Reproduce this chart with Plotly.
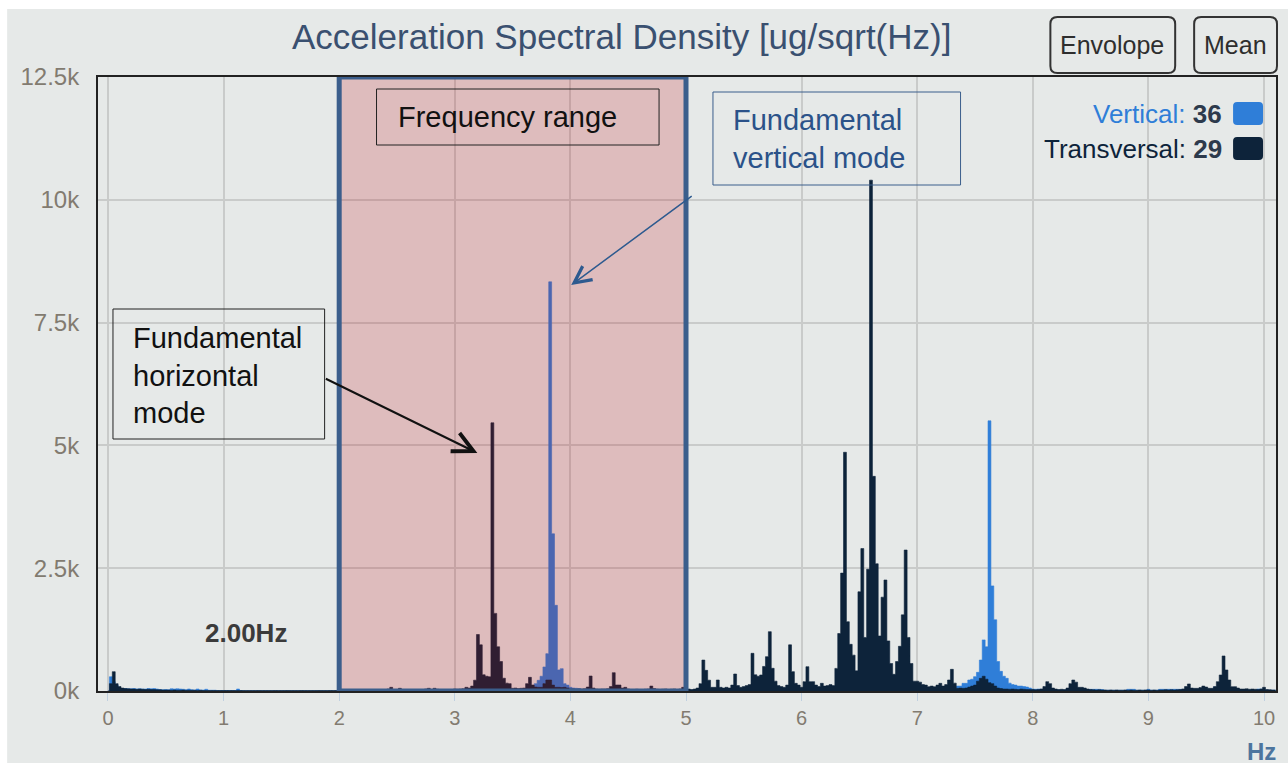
import plotly.graph_objects as go

# ---------------- data ----------------
freq_step = 0.025  # Hz per spectral bin

transversal_asd = [
    0, 150, 393, 150, 90, 60, 50, 45, 40, 40, 35, 40, 35, 30, 35, 30, 30, 25, 25, 20,            # 0.0
    20, 20, 15, 20, 15, 15, 20, 15, 15, 15, 15, 10, 15, 10, 10, 10, 10, 10, 10, 10,              # 0.5
    10, 10, 8, 10, 8, 8, 10, 8, 8, 8, 8, 8, 10, 8, 8, 8, 8, 8, 10, 8,                            # 1.0
    8, 8, 10, 8, 8, 8, 8, 10, 8, 8, 8, 8, 8, 10, 8, 8, 8, 10, 8, 10,                             # 1.5
    20, 15, 15, 10, 15, 10, 15, 10, 15, 10, 15, 20, 15, 20, 25, 20, 30, 40, 75, 30,              # 2.0
    25, 55, 30, 25, 20, 25, 20, 25, 30, 25, 40, 55, 30, 55, 35, 25, 20, 25, 20, 30,              # 2.5
    40, 35, 40, 45, 75, 60, 100, 220, 1150, 940, 330, 300, 290, 5460, 1580, 900, 600, 260, 160, 150,  # 3.0
    55, 60, 50, 55, 60, 150, 278, 122, 80, 75, 75, 150, 224, 224, 120, 75, 75, 70, 75, 60,       # 3.5
    40, 40, 35, 40, 40, 45, 80, 305, 60, 40, 35, 40, 40, 45, 90, 373, 122, 122, 60, 75,          # 4.0
    40, 30, 30, 35, 30, 30, 35, 40, 100, 50, 35, 30, 35, 40, 30, 35, 40, 30, 40, 75,             # 4.5
    40, 40, 30, 40, 60, 150, 630, 420, 220, 75, 75, 224, 75, 60, 75, 60, 120, 346, 110, 75,      # 5.0
    90, 110, 130, 767, 330, 300, 326, 500, 699, 1208, 462, 200, 110, 90, 75, 120, 940, 394, 156, 120,  # 5.5
    75, 190, 495, 190, 190, 120, 90, 156, 100, 110, 130, 110, 460, 1170, 2400, 4860, 1410, 950, 730, 410,  # 6.0
    2020, 2900, 1090, 2480, 10400, 4370, 2590, 1120, 1910, 2260, 1020, 560, 340, 600, 910, 1550, 2870, 1090, 560, 200,  # 6.5
    200, 180, 130, 120, 88, 100, 88, 120, 156, 100, 130, 224, 441, 160, 54, 60, 54, 60, 80, 100,  # 7.0
    120, 200, 258, 300, 240, 170, 150, 100, 60, 50, 40, 40, 35, 40, 35, 30, 40, 35, 30, 30,      # 7.5
    30, 25, 30, 40, 90, 190, 150, 60, 40, 30, 35, 30, 60, 150, 224, 180, 75, 75, 60, 40,         # 8.0
    30, 25, 20, 25, 20, 20, 15, 20, 15, 20, 15, 15, 20, 15, 20, 15, 15, 20, 15, 20,              # 8.5
    20, 15, 20, 15, 20, 20, 25, 20, 25, 20, 25, 30, 40, 90, 143, 60, 54, 54, 70, 100,            # 9.0
    80, 54, 54, 90, 190, 326, 713, 428, 224, 88, 88, 60, 40, 40, 45, 35, 40, 35, 30, 40,         # 9.5
    75, 30, 25, 20, 20,                                                                           # 10.0
]

vertical_asd = [
    0, 290, 190, 120, 60, 50, 50, 45, 45, 50, 40, 45, 40, 40, 50, 45, 50, 40, 30, 25,            # 0.0
    30, 25, 45, 40, 45, 40, 35, 25, 40, 25, 20, 40, 20, 20, 35, 15, 15, 15, 10, 10,              # 0.5
    10, 10, 10, 10, 10, 40, 10, 5, 5, 5, 5, 5, 5, 5, 5, 5, 5, 5, 5, 5,                           # 1.0
    5, 5, 5, 5, 5, 5, 5, 5, 5, 5, 5, 5, 5, 5, 5, 5, 5, 5, 5, 5,                                  # 1.5
    5, 5, 5, 5, 5, 5, 5, 5, 5, 5, 5, 5, 5, 10, 10, 10, 15, 15, 20, 15,                           # 2.0
    15, 15, 15, 15, 15, 15, 15, 15, 15, 15, 20, 20, 20, 20, 20, 15, 15, 15, 15, 20,              # 2.5
    20, 20, 20, 25, 25, 30, 40, 60, 80, 90, 80, 70, 60, 80, 60, 50, 40, 30, 30, 25,              # 3.0
    20, 20, 25, 30, 40, 50, 60, 90, 150, 217, 300, 489, 760, 8330, 3200, 1744, 430, 455, 150, 120,  # 3.5
    75, 60, 55, 50, 30, 25, 20, 20, 20, 20, 20, 20, 20, 20, 20, 20, 20, 20, 20, 20,              # 4.0
    15, 15, 15, 15, 15, 15, 15, 15, 15, 15, 15, 15, 15, 15, 15, 15, 15, 15, 15, 15,              # 4.5
    20, 20, 20, 20, 20, 20, 20, 20, 20, 20, 20, 20, 20, 20, 20, 20, 20, 20, 20, 20,              # 5.0
    25, 25, 25, 25, 25, 25, 25, 25, 25, 25, 25, 25, 25, 25, 25, 25, 25, 25, 25, 25,              # 5.5
    30, 30, 30, 30, 30, 30, 30, 30, 30, 30, 30, 30, 30, 30, 30, 30, 30, 30, 30, 30,              # 6.0
    40, 40, 40, 40, 40, 40, 40, 40, 40, 40, 40, 40, 40, 40, 40, 40, 40, 40, 40, 40,              # 6.5
    30, 30, 30, 30, 30, 35, 35, 40, 40, 40, 45, 50, 60, 80, 100, 100, 156, 156, 224, 240,        # 7.0
    292, 380, 630, 1040, 900, 5500, 2140, 1450, 600, 400, 300, 258, 160, 130, 120, 100, 100, 90, 80, 60,  # 7.5
    40, 35, 40, 35, 30, 25, 20, 20, 20, 20, 20, 20, 20, 20, 20, 20, 20, 20, 20, 15,              # 8.0
    34, 34, 34, 34, 30, 15, 15, 15, 15, 15, 15, 15, 15, 34, 34, 34, 15, 15, 15, 15,              # 8.5
    34, 15, 15, 15, 34, 34, 34, 34, 34, 34, 34, 34, 34, 34, 20, 20, 20, 20, 20, 20,              # 9.0
    30, 30, 30, 75, 75, 20, 20, 20, 20, 20, 20, 20, 20, 20, 20, 20, 20, 20, 40, 40,              # 9.5
    20, 20, 15, 15, 15,                                                                           # 10.0
]

freq_hz = [round(i * freq_step, 3) for i in range(len(transversal_asd))]

series_names = ["Vertical", "Transversal"]
series_counts = [36, 29]
series_colors = ["#2f7ed8", "#0d233a"]

x_tick_values = [0, 1, 2, 3, 4, 5, 6, 7, 8, 9, 10]
y_tick_values = [0, 2500, 5000, 7500, 10000, 12500]
y_tick_labels = ["0k", "2.5k", "5k", "7.5k", "10k", "12.5k"]

range_start_hz, range_end_hz = 2, 5

# ---------------- layout geometry ----------------
W, H = 1288, 765
ML, MR, MT, MB = 98, 10, 77, 74
PW, PH = W - ML - MR, H - MT - MB

def px_x(px):
    return (px - ML) / PW

def px_y(py):
    return (H - MB - py) / PH

def rounded_rect(x0, y0, x1, y1, r):
    def p(x, y):
        return f"{px_x(x):.5f},{px_y(y):.5f}"
    return (f"M{p(x0 + r, y0)} L{p(x1 - r, y0)} Q{p(x1, y0)} {p(x1, y0 + r)} "
            f"L{p(x1, y1 - r)} Q{p(x1, y1)} {p(x1 - r, y1)} L{p(x0 + r, y1)} "
            f"Q{p(x0, y1)} {p(x0, y1 - r)} L{p(x0, y0 + r)} Q{p(x0, y0)} {p(x0 + r, y0)} Z")

FONT = "Liberation Sans, Arial, sans-serif"
BG = "#e6e9e8"
TICK_COLOR = "#827b70"

fig = go.Figure()
for name, vals, col in [(series_names[0], vertical_asd, series_colors[0]),
                        (series_names[1], transversal_asd, series_colors[1])]:
    fig.add_trace(go.Scatter(
        x=freq_hz, y=vals, name=name, mode="lines",
        line=dict(color=col, width=0.6, shape="hvh"),
        fill="tozeroy", fillcolor=col, showlegend=False, hoverinfo="skip"))

shapes = []
# grey panel
shapes.append(dict(type="rect", xref="paper", yref="paper", layer="below",
                   x0=px_x(7), x1=px_x(1290), y0=px_y(763), y1=px_y(9),
                   fillcolor=BG, line=dict(width=0)))
# frequency range highlight
shapes.append(dict(type="rect", xref="x", yref="y", layer="above",
                   x0=range_start_hz, x1=range_end_hz, y0=0, y1=12500,
                   fillcolor="rgba(192,12,18,0.2)", line=dict(color="#3b5e8c", width=5)))
# annotation boxes
shapes.append(dict(type="rect", xref="paper", yref="paper", layer="above",
                   x0=px_x(377), x1=px_x(660), y0=px_y(145), y1=px_y(89),
                   line=dict(color="#222222", width=1)))
shapes.append(dict(type="rect", xref="paper", yref="paper", layer="above",
                   x0=px_x(714), x1=px_x(962), y0=px_y(185), y1=px_y(92),
                   line=dict(color="#3b5e8c", width=1)))
shapes.append(dict(type="rect", xref="paper", yref="paper", layer="above",
                   x0=px_x(113), x1=px_x(325), y0=px_y(439), y1=px_y(309),
                   line=dict(color="#222222", width=1)))
# legend swatches
shapes.append(dict(type="path", xref="paper", yref="paper", layer="above",
                   path=rounded_rect(1235, 102, 1265, 125, 4),
                   fillcolor=series_colors[0], line=dict(width=0)))
shapes.append(dict(type="path", xref="paper", yref="paper", layer="above",
                   path=rounded_rect(1235, 137, 1265, 160, 4),
                   fillcolor=series_colors[1], line=dict(width=0)))
# buttons
shapes.append(dict(type="path", xref="paper", yref="paper", layer="above",
                   path=rounded_rect(1052, 17, 1177, 73, 7),
                   fillcolor=BG, line=dict(color="#333333", width=2)))
shapes.append(dict(type="path", xref="paper", yref="paper", layer="above",
                   path=rounded_rect(1196, 17, 1279, 73, 7),
                   fillcolor=BG, line=dict(color="#333333", width=2)))

ann = []
def text(px, py, s, size, color, xanchor="left", bold=False, align="left"):
    ann.append(dict(xref="paper", yref="paper", x=px_x(px), y=px_y(py),
                    text=f"<b>{s}</b>" if bold else s, showarrow=False,
                    xanchor=xanchor, yanchor="middle", align=align,
                    font=dict(family=FONT, size=size, color=color)))

text(622, 37, "Acceleration Spectral Density [ug/sqrt(Hz)]", 35, "#3a5070", xanchor="center")
text(397, 117, "Frequency range", 29, "#111111")
text(732, 139, "Fundamental<br>vertical mode", 29, "#2b5289")
text(131, 375, "Fundamental<br>horizontal<br>mode", 29, "#111111")
text(246, 633, "2.00Hz", 26, "#3b3b3b", xanchor="center", bold=True)
text(1263, 751, "Hz", 24, "#4d759e", xanchor="center", bold=True)
text(1114, 45, "Envolope", 25, "#2e2e2e", xanchor="center")
text(1237, 45, "Mean", 25, "#2e2e2e", xanchor="center")
for i, (nm, cnt, col) in enumerate(zip(series_names, series_counts, series_colors)):
    text(1226, 114 + 35 * i,
         f"<span style='color:{col}'>{nm}:</span> <b>{cnt}</b>", 26, "#2d3a4c",
         xanchor="right")

# arrows (head position, tail offset in px)
ann.append(dict(xref="paper", yref="paper", x=px_x(572), y=px_y(285), ax=122, ay=-90,
                text="", showarrow=True, arrowhead=5, arrowsize=2.2, arrowwidth=1.5,
                arrowcolor="#2d5a8f", standoff=0))
ann.append(dict(xref="paper", yref="paper", x=px_x(478), y=px_y(453), ax=-153, ay=-75,
                text="", showarrow=True, arrowhead=5, arrowsize=2.0, arrowwidth=2,
                arrowcolor="#111111", standoff=0))

fig.update_layout(
    width=W, height=H, margin=dict(l=ML, r=MR, t=MT, b=MB),
    paper_bgcolor="white", plot_bgcolor=BG,
    shapes=shapes, annotations=ann,
    xaxis=dict(range=[-10 / 115.8, 1170 / 115.8], tickvals=x_tick_values,
               ticktext=[str(v) for v in x_tick_values],
               showgrid=True, gridcolor="#c9cbca", gridwidth=1.5, zeroline=False,
               showline=True, linecolor="#222222", linewidth=2, mirror=True,
               ticks="outside", ticklen=8, tickcolor="#c0d0e0", tickwidth=1,
               tickfont=dict(family=FONT, size=20, color=TICK_COLOR)),
    yaxis=dict(range=[0, 12500], tickvals=y_tick_values, ticktext=y_tick_labels,
               showgrid=True, gridcolor="#c9cbca", gridwidth=1.5, zeroline=False,
               showline=True, linecolor="#222222", linewidth=2, mirror=True,
               ticks="outside", ticklen=12, tickcolor="rgba(0,0,0,0)",
               tickfont=dict(family=FONT, size=24, color=TICK_COLOR)),
)

fig.write_html("out.html")
